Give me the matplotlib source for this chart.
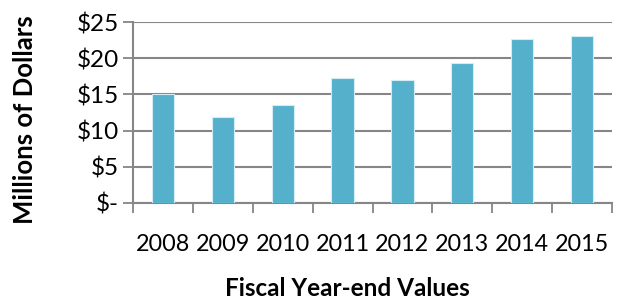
import numpy as np
import matplotlib.pyplot as plt
from matplotlib.ticker import FixedLocator

years = ["2008", "2009", "2010", "2011", "2012", "2013", "2014", "2015"]
values = [15.1, 11.9, 13.6, 17.2, 17.0, 19.4, 22.6, 23.1]
y_ticks = [0, 5, 10, 15, 20, 25]
y_labels = ["$-", "$5", "$10", "$15", "$20", "$25"]

plt.rcParams['font.family'] = ['Lato', 'DejaVu Sans']

fig = plt.figure(figsize=(6.18, 3.03), dpi=100)
ax = fig.add_axes([133 / 618, 1 - 203 / 303, (612 - 133) / 618, (203 - 22) / 303])

x = np.arange(len(years))
ax.bar(x, values, width=0.37, color="#55b1cb", edgecolor="#d4ecf3", linewidth=0.8, zorder=3)

ax.set_xlim(-0.5, len(years) - 0.5)
ax.set_ylim(0, 25)
ax.set_yticks(y_ticks)
ax.set_yticklabels(y_labels)
ax.set_xticks(x)
ax.set_xticklabels(years)
ax.xaxis.set_minor_locator(FixedLocator(np.arange(-0.5, len(years), 1)))
ax.tick_params(axis='x', which='major', length=0, pad=22, labelsize=16.8)
ax.tick_params(axis='x', which='minor', length=7, width=1.3, color="#868686")
ax.tick_params(axis='y', length=7, width=1.3, color="#868686", labelsize=17.5, pad=3)

ax.yaxis.grid(True, color="#868686", linewidth=1.5, zorder=0)
ax.set_axisbelow(True)
for s in ["top", "right"]:
    ax.spines[s].set_visible(False)
for s in ["left", "bottom"]:
    ax.spines[s].set_color("#868686")
    ax.spines[s].set_linewidth(1.5)

fig.text(25 / 618, 1 - 120 / 303, "Millions of Dollars", rotation=90, ha="center", va="center",
         fontsize=18.5, fontweight="bold")
fig.text(347 / 618, 1 - 289 / 303, "Fiscal Year-end Values", ha="center", va="center",
         fontsize=17.5, fontweight="bold")

fig.savefig("out.png", dpi=100)
